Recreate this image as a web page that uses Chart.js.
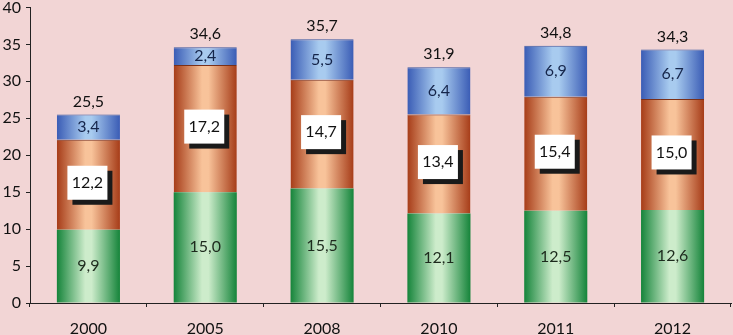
<!DOCTYPE html>
<html><head><meta charset="utf-8">
<script src="https://cdn.jsdelivr.net/npm/chart.js@4/dist/chart.umd.min.js"></script>
<style>html,body{margin:0;padding:0;background:#f2d5d5;}#wrap{width:733px;height:335px;}</style>
</head><body><div id="wrap"><canvas id="c" width="733" height="335"></canvas></div>
<script>
const categories = ["2000","2005","2008","2010","2011","2012"];
const greenValues = [9.9,15.0,15.5,12.1,12.5,12.6];
const orangeValues = [12.2,17.2,14.7,13.4,15.4,15.0];
const blueValues = [3.4,2.4,5.5,6.4,6.9,6.7];
const totals = [25.5,34.6,35.7,31.9,34.8,34.3];
const yTicks = [0,5,10,15,20,25,30,35,40];

const FONT = "Lato, 'Open Sans', sans-serif";
const CAT_PCT = 0.9, BAR_PCT = 0.6;
function fmt(v){return v.toFixed(1).replace('.', ',');}

function grad(edge, mid){
  return function(ctx){
    const chart = ctx.chart, xs = chart.scales.x;
    if(!xs || ctx.dataIndex === undefined) return edge;
    const cx = xs.getPixelForValue(ctx.dataIndex);
    const w = (xs.right - xs.left)/categories.length*CAT_PCT*BAR_PCT;
    if(!isFinite(cx)||!isFinite(w)) return edge;
    const g = chart.ctx.createLinearGradient(cx-w/2,0,cx+w/2,0);
    g.addColorStop(0, edge);
    g.addColorStop(0.45, mid);
    g.addColorStop(0.55, mid);
    g.addColorStop(1, edge);
    return g;
  };
}

const labelPlugin = {
  id:'labels',
  afterDatasetsDraw(chart){
    const ctx = chart.ctx;
    ctx.save();
    ctx.font = "16px " + FONT;
    ctx.textAlign='center'; ctx.textBaseline='middle';
    const m0 = chart.getDatasetMeta(0), m1 = chart.getDatasetMeta(1), m2 = chart.getDatasetMeta(2);
    categories.forEach((c,i)=>{
      let e = m0.data[i];
      ctx.fillStyle='#1d2a1d';
      ctx.fillText(fmt(greenValues[i]), e.x, (e.y+e.base)/2);
      e = m1.data[i];
      const cy = (e.y+e.base)/2 - 2;
      const bw=40, bh=34;
      ctx.fillStyle='#1a1a1a';
      ctx.fillRect(e.x-bw/2-1+5, cy-bh/2+5, bw, bh);
      ctx.fillStyle='#ffffff';
      ctx.fillRect(e.x-bw/2-1, cy-bh/2, bw, bh);
      ctx.fillStyle='#111';
      ctx.fillText(fmt(orangeValues[i]), e.x-1, cy);
      e = m2.data[i];
      ctx.fillStyle='#15254a';
      ctx.fillText(fmt(blueValues[i]), e.x, (e.y+e.base)/2);
      ctx.fillStyle='#111';
      ctx.fillText(fmt(totals[i]), e.x, e.y-13);
    });
    ctx.restore();
  }
};

new Chart(document.getElementById('c'),{
  type:'bar',
  data:{labels:categories,datasets:[
    {data:greenValues, backgroundColor:grad('#15843a','#cdeccb'), borderWidth:0},
    {data:orangeValues, backgroundColor:grad('#a63c18','#f8c39a'), borderWidth:{top:1,bottom:1,left:0,right:0}, borderColor:'#7a3018'},
    {data:blueValues, backgroundColor:grad('#3a5cb5','#a8cbef'), borderWidth:{top:1,bottom:0,left:0,right:0}, borderColor:'#3b58a0'}
  ].map(d=>Object.assign(d,{categoryPercentage:CAT_PCT,barPercentage:BAR_PCT}))},
  options:{
    responsive:false, animation:false, devicePixelRatio:1,
    layout:{padding:{top:4,right:2,left:0,bottom:0}},
    plugins:{legend:{display:false},tooltip:{enabled:false}},
    scales:{
      x:{stacked:true, offset:true,
        grid:{display:true, offset:true, drawOnChartArea:false, drawTicks:true, tickLength:4, color:'#222'},
        border:{display:true,color:'#222',width:1},
        ticks:{font:{family:FONT,size:16},color:'#111',padding:12},
        afterFit(s){s.height=32;}
      },
      y:{stacked:true, min:0, max:40,
        afterBuildTicks(s){s.ticks = yTicks.map(v=>({value:v}));},
        grid:{display:true, drawOnChartArea:false, drawTicks:true, tickLength:4, color:'#222'},
        border:{display:true,color:'#222',width:1},
        ticks:{font:{family:FONT,size:16,lineHeight:0.3},color:'#111',padding:5},
        afterFit(s){s.width=30;}
      }
    }
  },
  plugins:[labelPlugin]
});
</script></body></html>
